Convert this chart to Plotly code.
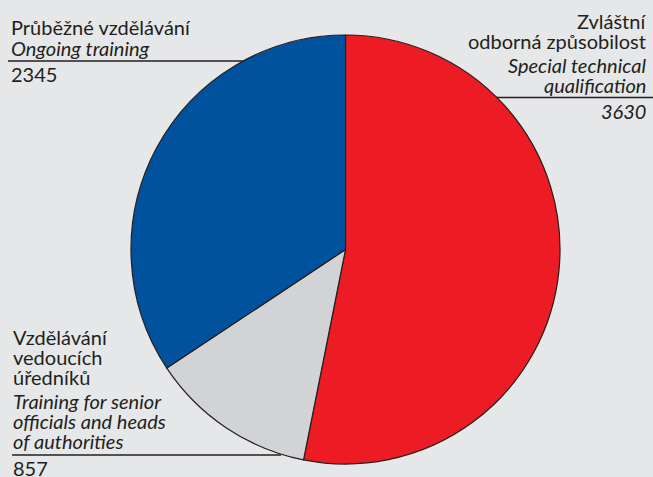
import plotly.graph_objects as go

# Data
cz_labels = ["Zvláštní<br>odborná způsobilost", "Vzdělávání<br>vedoucích<br>úředníků", "Průběžné vzdělávání"]
en_labels = ["Special technical<br>qualification", "Training for senior<br>officials and heads<br>of authorities", "Ongoing training"]
values = [3630, 857, 2345]
colors = ["#ed1c24", "#d1d3d4", "#00529c"]

W, H = 653, 477
FONT = "Lato"
FS = 20
TXT = "#231f20"


def px(x):
    return x / W


def py(y):
    return 1 - y / H


cx, cy, r = 345.5, 249.5, 214.5

fig = go.Figure()
fig.add_trace(go.Pie(
    values=values,
    labels=[c.replace("<br>", " ") for c in cz_labels],
    marker=dict(colors=colors, line=dict(color="#231f20", width=1.2)),
    sort=False,
    direction="clockwise",
    rotation=0,
    textinfo="none",
    hoverinfo="label+value",
    showlegend=False,
    domain=dict(x=[px(cx - r), px(cx + r)], y=[py(cy + r), py(cy - r)]),
))

# label layout: line y, line x-range, text x, alignment, first baseline, gap cz->en, number italic
layout_info = [
    dict(ly=97.5, x0=495, x1=653, tx=647, align="right", b0=27.5, gap=24, ital=True),
    dict(ly=455, x0=12, x1=281, tx=12, align="left", b0=343.5, gap=24, ital=False),
    dict(ly=61, x0=8, x1=243, tx=10, align="left", b0=34, gap=21, ital=False),
]
LS = 20  # line spacing in px
OFF = 0.39 * FS - 1  # baseline -> middle of text box

annotations = []
shapes = []
for cz, en, v, li in zip(cz_labels, en_labels, values, layout_info):
    xanchor = "right" if li["align"] == "right" else "left"
    lines = [(t, False) for t in cz.split("<br>")] + [(t, True) for t in en.split("<br>")]
    b = li["b0"]
    prev_it = False
    for i, (t, it) in enumerate(lines):
        if i > 0:
            b += li["gap"] if (it and not prev_it) else LS
        prev_it = it
        annotations.append(dict(
            x=px(li["tx"]), y=py(b - OFF), xref="paper", yref="paper",
            text=("<i>%s</i>" % t) if it else t, showarrow=False,
            xanchor=xanchor, yanchor="middle", align=li["align"],
            font=dict(family=FONT, size=FS, color=TXT), borderpad=0,
        ))
    nb = li["ly"] + 20
    annotations.append(dict(
        x=px(li["tx"]), y=py(nb - OFF), xref="paper", yref="paper",
        text=("<i>%d</i>" % v) if li["ital"] else str(v), showarrow=False,
        xanchor=xanchor, yanchor="middle", align=li["align"],
        font=dict(family=FONT, size=FS, color=TXT), borderpad=0,
    ))
    shapes.append(dict(
        type="line", xref="paper", yref="paper",
        x0=px(li["x0"]), x1=px(li["x1"]), y0=py(li["ly"]), y1=py(li["ly"]),
        line=dict(color="#231f20", width=1.5), layer="below",
    ))

fig.update_layout(
    width=W, height=H,
    margin=dict(l=0, r=0, t=0, b=0),
    paper_bgcolor="#e6e7e8",
    plot_bgcolor="#e6e7e8",
    annotations=annotations,
    shapes=shapes,
)

fig.write_html(
    "out.html",
    config={"displayModeBar": False},
    post_script="document.body.style.margin='0';document.body.style.overflow='hidden';",
)
